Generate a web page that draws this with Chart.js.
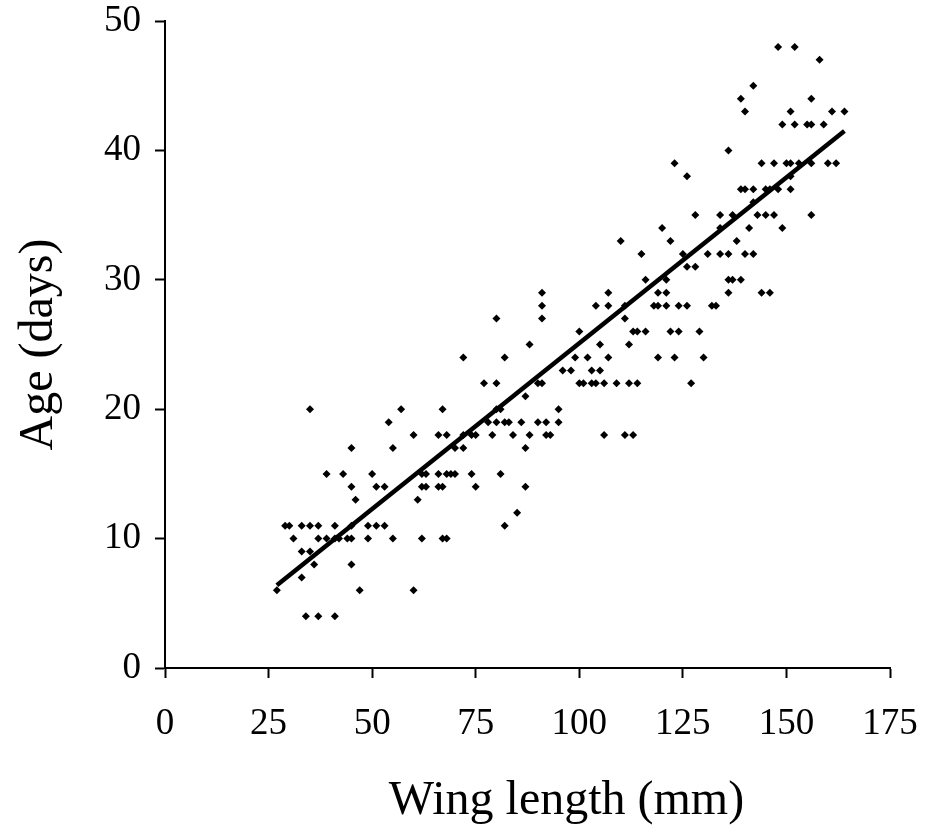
<!DOCTYPE html>
<html>
<head>
<meta charset="utf-8">
<script src="https://cdn.jsdelivr.net/npm/chart.js@4.4.0/dist/chart.umd.min.js"></script>
<style>
  html, body { margin: 0; padding: 0; background: #ffffff; }
  #wrap { width: 926px; height: 829px; position: relative; }
</style>
</head>
<body>
<div id="wrap"><canvas id="c" width="926" height="829"></canvas></div>
<script>
// Observed points: wing length (mm) and age (days)
const wingLength = [
  45,39,43,45,46, 29,30,33,35,37,41,45, 31,37,39,41,42,44,45, 33,35, 36,45, 33, 27,47, 34,37,41, 35,
  57,67,54,60,66,68,55, 50,62,63,66,68, 51,53,62,63,66,67, 61, 49,51,53, 49,55,62,67,68, 60,
  80,88,72,82,77,80,87, 80,81, 78,80,82,83,86,90, 72,74,75,79,84,88, 70,72,87, 69,70,74,81, 75,87, 85,82,
  91,91,91,107,104,107,111,111, 100,105,112, 99,102,107, 96,98,103,105,
  90,91,100,101,103,104,106,109,112, 95, 92,95, 92,93,106,
  128,120,110,122, 115,125,131,134,136,140,142, 126,128,116,121,119,121,
  118,119,121,124,126,132,133, 113,114,116,122,124,129, 119,123,130, 114,127, 111,113, 123,126,
  142,139,140,151,149,152,136, 144,147,150,151, 151, 139,140,142,145,146,148,151, 142,
  134,137,143,145,147, 134,141,149, 138, 136,137,139, 136,144,146,
  148,152,158,156, 161,164, 155,156,159, 153,156,160,162, 156
];
const ageDays = [
  17,15,15,14,13, 11,11,11,11,11,11,11, 10,10,10,10,10,10,10, 9,9, 8,8, 7, 6,6, 4,4,4, 20,
  20,20,19,18,18,18,17, 15,15,15,15,15, 14,14,14,14,14,14, 13, 11,11,11, 10,10,10,10,10, 6,
  27,25,24,24,22,22,21, 20,20, 19,19,19,19,19,19, 18,18,18,18,18,18, 17,17,17, 15,15,15,15, 14,14, 12,11,
  29,28,27,29,28,28,28,27, 26,25,25, 24,24,24, 23,23,23,23,
  22,22,22,22,22,22,22,22,22, 20, 19,19, 18,18,18,
  35,34,33,33, 32,32,32,32,32,32,32, 31,31,30,30,29,29,
  28,28,28,28,28,28,28, 26,26,26,26,26,26, 24,24,24, 22,22, 18,18, 39,38,
  45,44,43,43,42,42,40, 39,39,39,39, 38, 37,37,37,37,37,37,37, 36,
  35,35,35,35,35, 34,34,34, 33, 30,30,30, 29,29,29,
  48,48,47,44, 43,43, 42,42,42, 39,39,39,39, 35
];
// Fitted line as drawn (end points)
const trendWing = [27, 164];
const trendAge = [6.4, 41.5];
// Axis ticks and titles
const xTicks = [0, 25, 50, 75, 100, 125, 150, 175];
const yTicks = [0, 10, 20, 30, 40, 50];
const xTitle = 'Wing length (mm)';
const yTitle = 'Age (days)';

const points = wingLength.map((w, i) => ({ x: w, y: ageDays[i] }));
const trend = trendWing.map((w, i) => ({ x: w, y: trendAge[i] }));

const FONT = "'Liberation Serif', 'Times New Roman', serif";

// The x-axis title sits a little right of the plot centre in the original
const xTitlePlugin = {
  id: 'xTitlePlugin',
  afterDraw(chart) {
    const ctx = chart.ctx;
    const a = chart.chartArea;
    ctx.save();
    ctx.font = '48px ' + FONT;
    ctx.fillStyle = '#000000';
    ctx.textAlign = 'center';
    ctx.textBaseline = 'middle';
    ctx.fillText(xTitle, (a.left + a.right) / 2 + 39, 801);
    ctx.restore();
  }
};

new Chart(document.getElementById('c'), {
  type: 'scatter',
  data: {
    datasets: [
      {
        type: 'scatter',
        data: points,
        pointStyle: 'rectRot',
        pointRadius: 4,
        pointBorderWidth: 0,
        backgroundColor: '#000000',
        borderColor: '#000000',
        order: 2
      },
      {
        type: 'line',
        data: trend,
        borderColor: '#000000',
        borderWidth: 4.5,
        pointRadius: 0,
        fill: false,
        tension: 0,
        order: 1
      }
    ]
  },
  plugins: [xTitlePlugin],
  options: {
    responsive: false,
    animation: false,
    events: [],
    layout: { padding: 0 },
    plugins: { legend: { display: false }, tooltip: { enabled: false } },
    scales: {
      x: {
        type: 'linear',
        min: 0, max: 175,
        afterBuildTicks: (s) => { s.ticks = xTicks.map(v => ({ value: v })); },
        afterFit: (s) => { s.height = 161; s.paddingLeft = 0; s.paddingRight = 36; },
        border: { display: true, color: '#000000', width: 2 },
        grid: { display: true, drawOnChartArea: false, drawTicks: true, tickLength: 10, tickWidth: 2, tickColor: '#000000' },
        ticks: { color: '#000000', font: { family: FONT, size: 37 }, padding: 24, maxRotation: 0 },
        title: { display: false, text: xTitle }
      },
      y: {
        type: 'linear',
        min: 0, max: 50,
        afterBuildTicks: (s) => { s.ticks = yTicks.map(v => ({ value: v })); },
        afterFit: (s) => { s.width = 165; s.paddingTop = 21; s.paddingBottom = 0; },
        border: { display: true, color: '#000000', width: 2 },
        grid: { display: true, drawOnChartArea: false, drawTicks: true, tickLength: 10, tickWidth: 2, tickColor: '#000000' },
        ticks: { color: '#000000', font: { family: FONT, size: 37 }, padding: 14 },
        title: { display: true, text: yTitle, color: '#000000', font: { family: FONT, size: 48 }, padding: { top: 11, bottom: 0 } }
      }
    }
  }
});
</script>
</body>
</html>
